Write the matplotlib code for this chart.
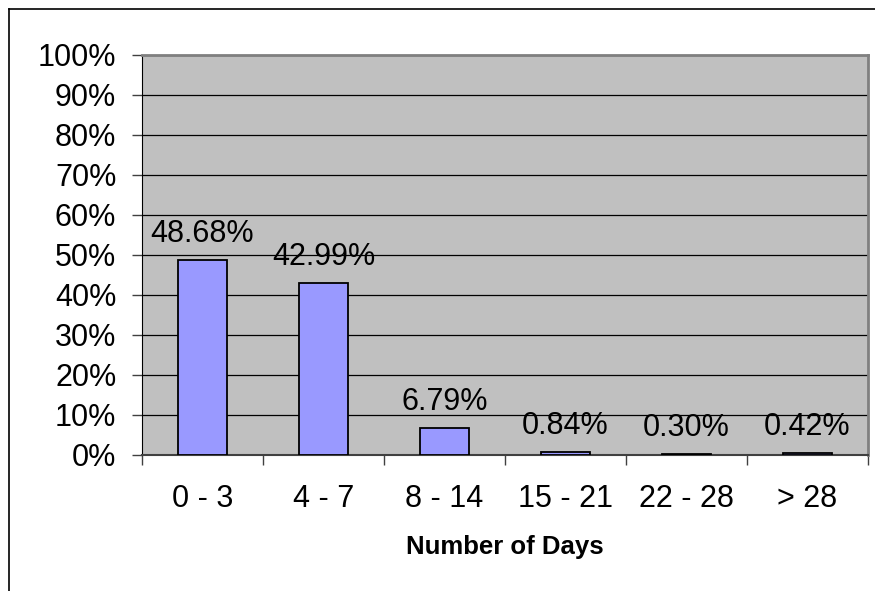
import matplotlib
matplotlib.use('Agg')
import matplotlib.pyplot as plt
from matplotlib.lines import Line2D
import numpy as np

categories = ['0 - 3', '4 - 7', '8 - 14', '15 - 21', '22 - 28', '> 28']
percents = [48.68, 42.99, 6.79, 0.84, 0.30, 0.42]
y_ticks = [0, 10, 20, 30, 40, 50, 60, 70, 80, 90, 100]


def main():
    plt.rc('font', family = ['Liberation Sans', 'DejaVu Sans'])

    W, H = 875, 591
    fig = plt.figure(figsize = (W / 100, H / 100), dpi = 100)
    ax = fig.add_axes([142 / W, 1 - 455 / H, 726 / W, 400 / H])
    ax.set_facecolor('#C0C0C0')

    fs = 22
    x = np.arange(len(categories))
    ax.bar(x, percents, width = 0.41, color = '#9999FF',
           edgecolor = 'black', linewidth = 1.3, zorder = 3)

    for xi, v in zip(x, percents):
        ax.annotate('%.2f%%' % v, (xi, v), xytext = (0, 13),
                    textcoords = 'offset points', ha = 'center', va = 'baseline',
                    fontsize = fs, zorder = 4)

    ax.set_xlim(-0.5, len(categories) - 0.5)
    ax.set_ylim(0, 100)
    ax.set_yticks(y_ticks)
    ax.set_yticklabels(['%d%%' % t for t in y_ticks], fontsize = fs)
    ax.yaxis.grid(True, color = 'black', linewidth = 0.9, zorder = 1)
    ax.set_axisbelow(True)

    ax.set_xticks(x)
    ax.set_xticklabels(categories, fontsize = fs)
    ax.set_xticks(np.arange(len(categories) + 1) - 0.5, minor = True)
    ax.tick_params(axis = 'x', which = 'major', length = 0, pad = 21)
    ax.tick_params(axis = 'x', which = 'minor', length = 7.5, width = 1,
                   color = '#404040', direction = 'out')
    ax.tick_params(axis = 'y', length = 7.5, width = 1, color = '#404040',
                   direction = 'out', pad = 11)

    ax.set_xlabel('Number of Days', fontsize = 18.5, fontweight = 'bold',
                  labelpad = 15)

    ax.spines['left'].set_color('black')
    ax.spines['bottom'].set_color('#404040')
    ax.spines['bottom'].set_linewidth(1.5)
    ax.spines['top'].set_color('#808080')
    ax.spines['right'].set_color('#808080')
    ax.spines['top'].set_linewidth(2)
    ax.spines['right'].set_linewidth(2)

    # outer chart border (only left and top visible)
    fig.add_artist(Line2D([8.5 / W, 8.5 / W], [0, 1 - 9 / H],
                          color = 'black', linewidth = 1.2))
    fig.add_artist(Line2D([8.5 / W, 1], [1 - 9 / H, 1 - 9 / H],
                          color = 'black', linewidth = 1.2))

    fig.savefig('out.png', dpi = 100)


if __name__ == '__main__':
    main()
